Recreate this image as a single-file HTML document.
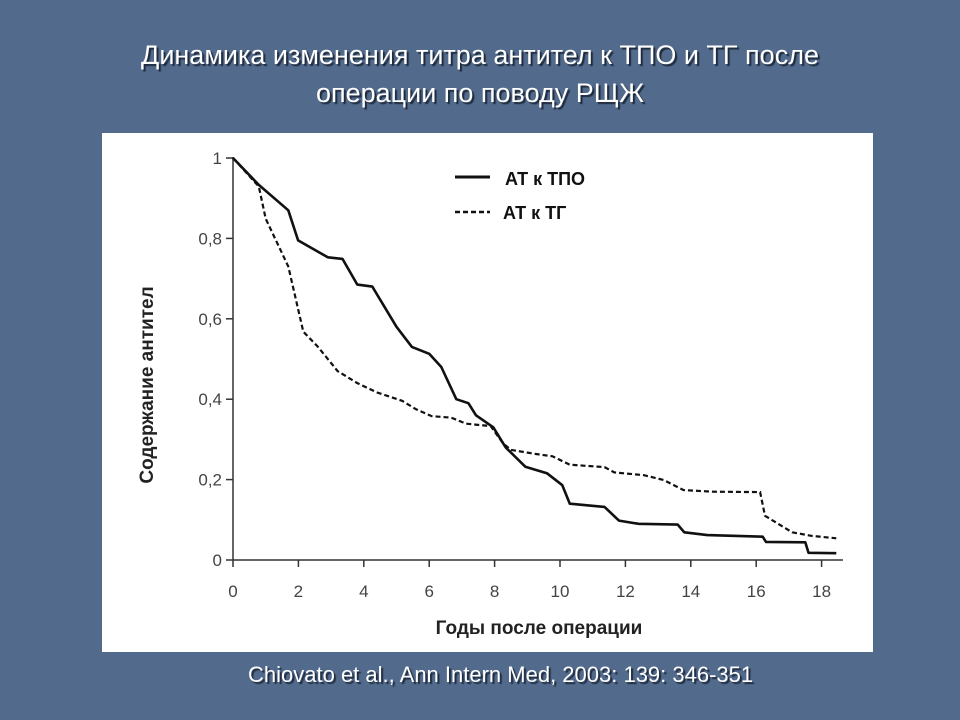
<!DOCTYPE html>
<html><head><meta charset="utf-8">
<style>
body{margin:0;width:960px;height:720px;background:#526a8c;overflow:hidden;font-family:"Liberation Sans",Arial,sans-serif;position:relative}
.t{position:absolute;left:0;width:960px;text-align:center;color:#fff;font-size:27px;text-shadow:2px 2px 1px #1e2a3c}
#cite{position:absolute;left:248px;top:662px;color:#fff;font-size:22px;text-shadow:2px 2px 1px #1e2a3c;white-space:nowrap}
#panel{position:absolute;left:102px;top:133px;width:771px;height:519px;background:#fff}
svg{position:absolute;left:0;top:0}
</style></head><body>
<div class="t" style="top:40px">Динамика изменения титра антител к ТПО и ТГ после</div>
<div class="t" style="top:78px">операции по поводу РЩЖ</div>
<div id="panel"></div>
<svg id="chart" width="960" height="720"></svg>
<div id="cite">Chiovato et al., Ann Intern Med, 2003: 139: 346-351</div>
<script>
const xTicks=[0,2,4,6,8,10,12,14,16,18];
const yTicks=[0,0.2,0.4,0.6,0.8,1];
const yTickLabels=["0","0.2","0.4","0.6","0.8","1"];
const tpoX=[0,0.79,1.69,1.99,2.9,3.35,3.8,4.26,5.0,5.47,6.0,6.37,6.83,7.2,7.43,7.96,8.34,8.94,9.6,10.07,10.3,11.36,11.8,12.4,13.6,13.8,14.5,16.2,16.3,17.5,17.6,18.45];
const tpoY=[1,0.933,0.87,0.795,0.753,0.749,0.685,0.68,0.58,0.53,0.513,0.48,0.40,0.39,0.36,0.33,0.28,0.232,0.216,0.186,0.14,0.132,0.098,0.09,0.088,0.069,0.062,0.058,0.045,0.044,0.018,0.017];
const tgX=[0,0.79,1.0,1.69,2.15,2.6,3.2,3.8,4.4,5.17,5.6,6.07,6.68,7.13,7.88,8.26,8.5,9.24,9.77,10.3,11.36,11.66,12.57,13.17,13.78,14.68,16.12,16.27,17.1,17.7,18.45];
const tgY=[1,0.929,0.849,0.73,0.568,0.53,0.47,0.44,0.417,0.396,0.375,0.358,0.354,0.339,0.333,0.29,0.274,0.264,0.258,0.237,0.231,0.218,0.211,0.199,0.174,0.17,0.169,0.11,0.069,0.06,0.054];
const NS="http://www.w3.org/2000/svg";
const svg=document.getElementById('chart');
const X=v=>233+v*32.7, Y=v=>560-v*402;
function mk(tag,attrs,txt){const e=document.createElementNS(NS,tag);for(const k in attrs)e.setAttribute(k,attrs[k]);if(txt!==undefined)e.textContent=txt;svg.appendChild(e);return e;}
let e;
e=mk('line',{x1:233,y1:157,x2:233,y2:560,stroke:'#333','stroke-width':1.5});


e=mk('line',{x1:233,y1:560,x2:843,y2:560,stroke:'#333','stroke-width':1.5});


xTicks.forEach(t=>{
 e=mk('line',{x1:X(t),y1:560,x2:X(t),y2:567,stroke:'#333','stroke-width':1.5});
 
 
 e=mk('text',{x:X(t),y:597,'text-anchor':'middle','font-size':17,fill:'#444','font-family':'Liberation Sans, sans-serif'},String(t));
 
 
});
yTicks.forEach((t,i)=>{
 e=mk('line',{x1:226,y1:Y(t),x2:233,y2:Y(t),stroke:'#333','stroke-width':1.5});
 
 
 e=mk('text',{x:222,y:Y(t)+6,'text-anchor':'end','font-size':17,fill:'#444','font-family':'Liberation Sans, sans-serif'},yTickLabels[i].replace('.',','));
 
 
});
function pts(xs,ys){return xs.map((x,i)=>X(x).toFixed(1)+','+Y(ys[i]).toFixed(1)).join(' ');}
e=mk('polyline',{points:pts(tpoX,tpoY),fill:'none',stroke:'#111','stroke-width':2.6,'stroke-linejoin':'round'});


e=mk('polyline',{points:pts(tgX,tgY),fill:'none',stroke:'#111','stroke-width':2.2,'stroke-dasharray':'5,3'});


e=mk('line',{x1:455,y1:177,x2:490,y2:177,stroke:'#111','stroke-width':3});


e=mk('text',{x:505,y:185,'font-size':18,'font-weight':'bold',fill:'#111','font-family':'Liberation Sans, sans-serif'},'АТ к ТПО');


e=mk('line',{x1:455,y1:212,x2:490,y2:212,stroke:'#111','stroke-width':2.5,'stroke-dasharray':'5,3'});


e=mk('text',{x:503,y:219,'font-size':18,'font-weight':'bold',fill:'#111','font-family':'Liberation Sans, sans-serif'},'АТ к ТГ');


e=mk('text',{x:539,y:634,'text-anchor':'middle','font-size':19,'font-weight':'bold',fill:'#222','font-family':'Liberation Sans, sans-serif'},'Годы после операции');


e=mk('text',{x:0,y:0,'text-anchor':'middle','font-size':19,'font-weight':'bold',fill:'#222','font-family':'Liberation Sans, sans-serif',transform:'translate(153,385) rotate(-90)'},'Содержание антител');


</script>
</body></html>
